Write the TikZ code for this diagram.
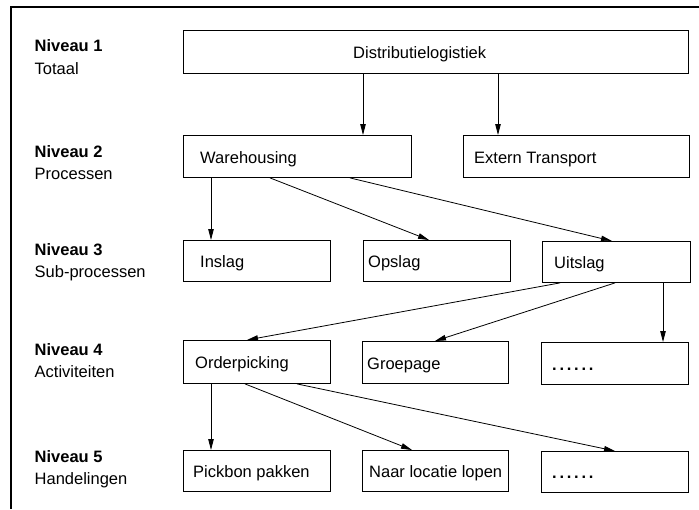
\documentclass[tikz,border=0pt]{standalone}
\usepackage{fontspec}
\setmainfont{Liberation Sans}
\usetikzlibrary{arrows.meta}

\tikzset{
  blok/.style={draw, line width=0.9pt, inner sep=0pt, anchor=north west, minimum height=42pt},
  tekst/.style={anchor=base west, inner sep=0pt, yshift=-7pt, font=\fontsize{16.5}{19}\selectfont},
  niveau/.style={anchor=base west, inner sep=0pt, font=\fontsize{16.5}{19}\selectfont},
  pijl/.style={line width=0.8pt, -{Triangle[length=11pt, width=5.5pt]}},
}

\begin{document}
\begin{tikzpicture}[x=1pt, y=-1pt]
\useasboundingbox (0,0) rectangle (699,509);

% kader
\draw[line width=1.3pt] (699,7) -- (11,7) -- (11,509);

% niveaus
\node[niveau] (n1) at (34.5,51.7) {\bfseries Niveau 1};
\node[niveau] (n1t) at (34.5,74) {Totaal};
\node[niveau] (n2) at (34.5,157) {\bfseries Niveau 2};
\node[niveau] (n2t) at (34.5,179) {Processen};
\node[niveau] (n3) at (34.5,255) {\bfseries Niveau 3};
\node[niveau] (n3t) at (34.5,277.5) {Sub-processen};
\node[niveau] (n4) at (34.5,355) {\bfseries Niveau 4};
\node[niveau] (n4t) at (34.5,377) {Activiteiten};
\node[niveau] (n5) at (34.5,462.5) {\bfseries Niveau 5};
\node[niveau] (n5t) at (34.5,484.5) {Handelingen};

% blokken
\node[blok, minimum width=505pt, minimum height=43pt, label={[tekst, xshift=170pt]west:Distributielogistiek}] (dl) at (183,30) {};
\node[blok, minimum width=228pt, label={[tekst, xshift=17pt]west:Warehousing}] (wh) at (183,135) {};
\node[blok, minimum width=226pt, label={[tekst, xshift=11pt]west:Extern Transport}] (et) at (463,135) {};

\node[blok, minimum width=147pt, minimum height=41pt, label={[tekst, xshift=17pt]west:Inslag}] (in) at (183,240) {};
\node[blok, minimum width=147pt, minimum height=41pt, label={[tekst, xshift=5pt]west:Opslag}] (ops) at (363,240) {};
\node[blok, minimum width=148pt, minimum height=41pt, label={[tekst, xshift=12pt]west:Uitslag}] (uit) at (542,241) {};

\node[blok, minimum width=147pt, minimum height=43pt, label={[tekst, xshift=12pt]west:Orderpicking}] (op) at (183,340) {};
\node[blok, minimum width=146pt, label={[tekst, xshift=5pt]west:Groepage}] (gp) at (362,341) {};
\node[blok, minimum width=147pt, label={[tekst, xshift=11pt]west:{\bfseries .\,.\,.\,.\,.\,.}}] (act) at (541,342) {};

\node[blok, minimum width=147pt, minimum height=41pt, label={[tekst, xshift=10pt]west:Pickbon pakken}] (pb) at (183,450) {};
\node[blok, minimum width=146pt, minimum height=41pt, label={[tekst, xshift=7pt]west:Naar locatie lopen}] (nl) at (362,450) {};
\node[blok, minimum width=147pt, minimum height=41pt, label={[tekst, xshift=11pt]west:{\bfseries .\,.\,.\,.\,.\,.}}] (hnd) at (541,451) {};

% pijlen
\draw[pijl] ([xshift=180pt]dl.south west) -- ([xshift=180pt]wh.north west);
\draw[pijl] ([xshift=315pt]dl.south west) -- ([xshift=35pt]et.north west);

\draw[pijl] ([xshift=28pt]wh.south west) -- ([xshift=28pt]in.north west);
\draw[pijl] ([xshift=87pt]wh.south west) -- ([xshift=66pt]ops.north west);
\draw[pijl] ([xshift=167pt]wh.south west) -- ([xshift=70pt]uit.north west);

\draw[pijl] ([xshift=18pt]uit.south west) -- ([xshift=64pt]op.north west);
\draw[pijl] ([xshift=73pt]uit.south west) -- ([xshift=73pt]gp.north west);
\draw[pijl] ([xshift=121pt]uit.south west) -- ([xshift=122pt]act.north west);

\draw[pijl] ([xshift=28pt]op.south west) -- ([xshift=28pt]pb.north west);
\draw[pijl] ([xshift=62pt]op.south west) -- ([xshift=50pt]nl.north west);
\draw[pijl] ([xshift=114pt]op.south west) -- ([xshift=74pt]hnd.north west);
\end{tikzpicture}
\end{document}
